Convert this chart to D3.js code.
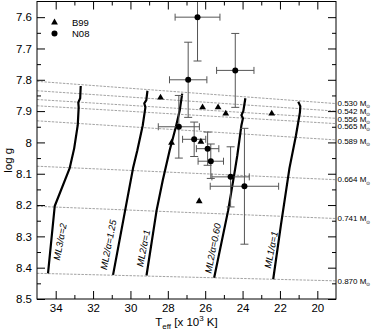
<!DOCTYPE html>
<html><head><meta charset="utf-8">
<script src="https://cdn.jsdelivr.net/npm/d3@7"></script>
<style>
body{margin:0;background:#fff;}
svg{display:block;font-family:"Liberation Sans",Arial,Helvetica,sans-serif;}
</style></head>
<body>
<svg id="chart" width="372" height="336"></svg>
<script>
// ---- data ----
const xMajorTicks = [34, 32, 30, 28, 26, 24, 22, 20];
const xMinorTicks = [33, 31, 29, 27, 25, 23, 21];
const yMajorTicks = [7.6, 7.7, 7.8, 7.9, 8.0, 8.1, 8.2, 8.3, 8.4, 8.5];
const yTickLabels = ["7.6", "7.7", "7.8", "7.9", "8", "8.1", "8.2", "8.3", "8.4", "8.5"];
const yMinorTicks = [7.65, 7.75, 7.85, 7.95, 8.05, 8.15, 8.25, 8.35, 8.45];

const b99Teff = [28.39, 26.14, 25.31, 24.90, 22.44, 27.80, 26.23, 26.32];
const b99Logg = [7.857, 7.888, 7.888, 7.908, 7.908, 8.001, 7.998, 8.188];

const n08Teff    = [26.41, 26.91, 24.39, 27.41, 26.59, 25.87, 25.70, 24.64, 23.90];
const n08Logg    = [7.600, 7.800, 7.770, 7.950, 7.990, 8.020, 8.060, 8.110, 8.140];
const n08TeffErr = [1.20, 1.00, 1.00, 1.10, 0.62, 0.60, 0.68, 1.00, 1.83];
const n08LoggErr = [0.140, 0.120, 0.118, 0.100, 0.055, 0.053, 0.055, 0.096, 0.185];

const massLabels   = ["0.530", "0.542", "0.556", "0.565", "0.589", "0.664", "0.741", "0.870"];
const massLoggHot  = [7.805, 7.835, 7.863, 7.883, 7.931, 8.076, 8.204, 8.418]; // at Teff = 35
const massLoggCool = [7.876, 7.900, 7.923, 7.940, 7.992, 8.119, 8.243, 8.442]; // at Teff = 19

const trackNames = ["ML3/α=2", "ML2/α=1.25", "ML2/α=1", "ML2/α=0.60", "ML1/α=1"];
const track1Teff = [32.66, 32.69, 32.79, 32.77, 32.82, 33.01, 33.25, 34.05, 34.41];
const track1Logg = [7.820, 7.859, 7.872, 7.888, 7.945, 8.019, 8.082, 8.203, 8.418];
const track2Teff = [29.09, 29.15, 29.26, 29.20, 29.34, 29.63, 29.86, 30.93];
const track2Logg = [7.835, 7.865, 7.875, 7.888, 7.945, 8.025, 8.082, 8.423];
const track3Teff = [27.23, 27.36, 27.57, 27.90, 28.27, 28.60, 29.14];
const track3Logg = [7.844, 7.897, 7.951, 8.025, 8.121, 8.217, 8.425];
const track4Teff = [23.85, 23.96, 24.06, 23.98, 24.06, 24.28, 24.39, 24.77, 25.52];
const track4Logg = [7.859, 7.900, 7.913, 7.923, 7.945, 8.041, 8.082, 8.217, 8.432];
const track5Teff = [21.02, 20.91, 20.93, 21.14, 21.49, 21.95, 22.36];
const track5Logg = [7.870, 7.884, 7.904, 7.977, 8.082, 8.265, 8.437];
const trackLabelTeff = [33.77, 31.18, 29.31, 25.59, 22.47];
const trackLabelLogg = [8.317, 8.327, 8.338, 8.338, 8.343];

// ---- layout / style ----
const svg = d3.select("#chart");
const L = 37, R = 336, T = 1.5, B = 299;
const x = d3.scaleLinear().domain([35, 19]).range([L, R]);
const y = d3.scaleLinear().domain([7.55, 8.5]).range([T, B]);
const massLabelNudge = [-0.8, -0.3, 1, 2.2, 1, 0, 0, 0]; // px, label spacing only

svg.append("defs").append("clipPath").attr("id", "clip")
  .append("rect").attr("x", L).attr("y", T).attr("width", R - L).attr("height", B - T);
const plot = svg.append("g").attr("clip-path", "url(#clip)");

// mass lines
massLabels.forEach((m, i) => {
  plot.append("line")
    .attr("x1", x(35)).attr("y1", y(massLoggHot[i]))
    .attr("x2", x(19)).attr("y2", y(massLoggCool[i]))
    .attr("stroke", "#8a8a8a").attr("stroke-width", 0.8)
    .attr("stroke-dasharray", "2.5,1.2");
  const t = svg.append("text")
    .attr("x", R + 1.5).attr("y", y(massLoggCool[i]) + massLabelNudge[i])
    .attr("dy", "0.35em").attr("font-size", 8).attr("fill", "#000");
  t.append("tspan").text(m + " M");
  t.append("tspan").attr("font-size", 5).attr("dy", "0.45em").text("⊙");
});

// tracks
const tracks = [
  [track1Teff, track1Logg], [track2Teff, track2Logg], [track3Teff, track3Logg],
  [track4Teff, track4Logg], [track5Teff, track5Logg]
];
const line = d3.line().x(d => x(d[0])).y(d => y(d[1]));
tracks.forEach(([tt, gg], i) => {
  plot.append("path").datum(tt.map((v, j) => [v, gg[j]]))
    .attr("d", line).attr("fill", "none")
    .attr("stroke", "#000").attr("stroke-width", 2.2).attr("stroke-linejoin", "round");
  svg.append("text")
    .attr("transform", `translate(${x(trackLabelTeff[i])},${y(trackLabelLogg[i])}) rotate(-79)`)
    .attr("text-anchor", "middle").attr("dy", "0.35em")
    .attr("font-size", 9.5).attr("font-style", "italic")
    .text(trackNames[i]);
});

// error bars N08
const ebColor = "#555";
const cap = 3.5;
const eb = plot.append("g").attr("stroke", ebColor).attr("stroke-width", 1).attr("fill", "none");
n08Teff.forEach((t, i) => {
  const cx = x(t), cy = y(n08Logg[i]);
  const x0 = x(t + n08TeffErr[i]), x1 = x(t - n08TeffErr[i]);
  const y0 = y(n08Logg[i] - n08LoggErr[i]), y1 = y(n08Logg[i] + n08LoggErr[i]);
  eb.append("line").attr("x1", x0).attr("x2", x1).attr("y1", cy).attr("y2", cy);
  eb.append("line").attr("x1", x0).attr("x2", x0).attr("y1", cy - cap).attr("y2", cy + cap);
  eb.append("line").attr("x1", x1).attr("x2", x1).attr("y1", cy - cap).attr("y2", cy + cap);
  eb.append("line").attr("x1", cx).attr("x2", cx).attr("y1", y0).attr("y2", y1);
  eb.append("line").attr("x1", cx - 4).attr("x2", cx + 4).attr("y1", y0).attr("y2", y0);
  eb.append("line").attr("x1", cx - 4).attr("x2", cx + 4).attr("y1", y1).attr("y2", y1);
});

// markers
const tri = d3.symbol().type(d3.symbolTriangle).size(20);
b99Teff.forEach((t, i) => {
  plot.append("path").attr("d", tri)
    .attr("transform", `translate(${x(t)},${y(b99Logg[i])})`).attr("fill", "#000");
});
n08Teff.forEach((t, i) => {
  plot.append("circle").attr("cx", x(t)).attr("cy", y(n08Logg[i])).attr("r", 3).attr("fill", "#000");
});

// axes
function styleAxis(g) {
  g.select(".domain").remove();
  g.selectAll("line").attr("stroke", "#000").attr("stroke-width", 1);
  g.selectAll("text").attr("font-size", 11.5).attr("fill", "#000")
    .attr("font-family", "'Liberation Sans',Arial,Helvetica,sans-serif");
}
const fmtY = d => yTickLabels[yMajorTicks.indexOf(d)];
svg.append("g").attr("transform", `translate(${L},0)`)
  .call(d3.axisLeft(y).tickValues(yMajorTicks).tickFormat(fmtY).tickSize(-8).tickPadding(5)).call(styleAxis);
svg.append("g").attr("transform", `translate(${L},0)`)
  .call(d3.axisLeft(y).tickValues(yMinorTicks).tickFormat("").tickSize(-4)).call(styleAxis);
svg.append("g").attr("transform", `translate(${R},0)`)
  .call(d3.axisRight(y).tickValues(yMajorTicks).tickFormat("").tickSize(-8)).call(styleAxis);
svg.append("g").attr("transform", `translate(${R},0)`)
  .call(d3.axisRight(y).tickValues(yMinorTicks).tickFormat("").tickSize(-4)).call(styleAxis);
svg.append("g").attr("transform", `translate(0,${B})`)
  .call(d3.axisBottom(x).tickValues(xMajorTicks).tickFormat(d3.format("d")).tickSize(-8).tickPadding(5)).call(styleAxis);
svg.append("g").attr("transform", `translate(0,${B})`)
  .call(d3.axisBottom(x).tickValues(xMinorTicks).tickFormat("").tickSize(-4)).call(styleAxis);
svg.append("g").attr("transform", `translate(0,${T})`)
  .call(d3.axisTop(x).tickValues(xMajorTicks).tickFormat("").tickSize(-8)).call(styleAxis);
svg.append("g").attr("transform", `translate(0,${T})`)
  .call(d3.axisTop(x).tickValues(xMinorTicks).tickFormat("").tickSize(-4)).call(styleAxis);

// frame
svg.append("rect").attr("x", L).attr("y", T).attr("width", R - L).attr("height", B - T)
  .attr("fill", "none").attr("stroke", "#000").attr("stroke-width", 1);

// axis titles
const xt = svg.append("text").attr("x", (L + R) / 2).attr("y", 326)
  .attr("text-anchor", "middle").attr("font-size", 11.5);
xt.append("tspan").text("T");
xt.append("tspan").attr("font-size", 8).attr("dy", 3).text("eff");
xt.append("tspan").attr("dy", -3).text(" [x 10");
xt.append("tspan").attr("font-size", 8).attr("dy", -5).text("3");
xt.append("tspan").attr("dy", 5).text(" K]");

svg.append("text").attr("transform", `translate(12,${(T + B) / 2 + 10}) rotate(-90)`)
  .attr("text-anchor", "middle").attr("font-size", 11.5).text("log g");

// legend
const lg = svg.append("g");
lg.append("path").attr("d", tri).attr("transform", "translate(54.5,22.5)").attr("fill", "#000");
lg.append("circle").attr("cx", 54.5).attr("cy", 33.5).attr("r", 3).attr("fill", "#000");
lg.append("text").attr("x", 72).attr("y", 22.5).attr("dy", "0.35em").attr("font-size", 9.5).text("B99");
lg.append("text").attr("x", 72).attr("y", 33.5).attr("dy", "0.35em").attr("font-size", 9.5).text("N08");
</script>
</body></html>
